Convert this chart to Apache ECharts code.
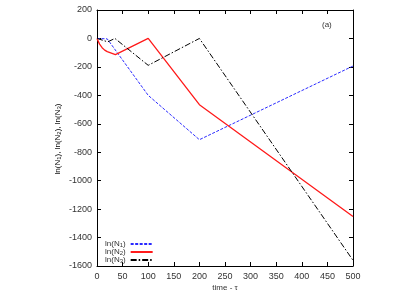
<!DOCTYPE html>
<html><head><meta charset="utf-8">
<script src="https://cdn.jsdelivr.net/npm/echarts@6/dist/echarts.min.js"></script>
<style>html,body{margin:0;padding:0;background:#fff}#c{width:420px;height:294px}</style>
</head><body><div id="c"></div>
<script>
const seriesNames = ['ln(N1)', 'ln(N2)', 'ln(N3)'];
const n1 = [[0,0],[20,-3],[100,-400],[200,-712],[500,-194]];
const n2 = [[0,0],[5,-40],[10,-65],[15,-82],[20,-93],[36,-114],[100,0],[200,-466],[500,-1252]];
const n3 = [[0,0],[21,-24],[35,0],[100,-189],[200,0],[500,-1560]];
const xTicks = [0,50,100,150,200,250,300,350,400,450,500];
const yTicks = [200,0,-200,-400,-600,-800,-1000,-1200,-1400,-1600];
const xTitle = 'time - τ';
const panelLabel = '(a)';

const font = 'Liberation Sans, Arial, sans-serif';
const txt = '#333';
const rich = {
  sub:{fontSize:6, lineHeight:6, padding:[4,0,0,0], verticalAlign:'bottom', fontFamily:font, color:txt},
  n:{fontSize:8, lineHeight:8, verticalAlign:'top', fontFamily:font, color:txt}
};
function subFmt(name){const m=name.match(/^ln\(N(\d)\)$/);return m?'{n|ln(N}{sub|'+m[1]+'}{n|)}':name;}

const chart = echarts.init(document.getElementById('c'));
function axisCommon(){ return {
  axisLine:{show:true, onZero:false, lineStyle:{color:'#000', width:1}},
  axisTick:{show:true, inside:true, length:4, lineStyle:{color:'#000'}},
  splitLine:{show:false}
};}
chart.setOption({
  animation:false,
  grid:{left:97, right:67, top:10, bottom:28},
  xAxis:[
    Object.assign({type:'value', min:0, max:500, interval:50, position:'bottom',
      axisLabel:{fontSize:9, color:txt, fontFamily:font, margin:6, formatter:v=>String(v)}}, axisCommon()),
    Object.assign({type:'value', min:0, max:500, interval:50, position:'top',
      axisLabel:{show:false}}, axisCommon())
  ],
  yAxis:[
    Object.assign({type:'value', min:-1600, max:200, interval:200, position:'left',
      axisLabel:{fontSize:9, color:txt, fontFamily:font, margin:5, formatter:v=>String(v)}}, axisCommon()),
    Object.assign({type:'value', min:-1600, max:200, interval:200, position:'right',
      axisLabel:{show:false}}, axisCommon())
  ],
  legend:{
    left:105, top:238, orient:'vertical', align:'right', itemGap:-2,
    itemWidth:22, itemHeight:7, padding:0,
    data:seriesNames,
    formatter:subFmt,
    itemStyle:{opacity:0},
    textStyle:{rich:rich, fontSize:8, color:txt, fontFamily:font}
  },
  series:[
    {name:seriesNames[0], type:'line', data:n1, symbol:'none', xAxisIndex:0, yAxisIndex:0,
      lineStyle:{color:'#2a2aff', width:1, type:[3,1.5]}, itemStyle:{color:'#2a2aff'}},
    {name:seriesNames[1], type:'line', data:n2, symbol:'none', xAxisIndex:0, yAxisIndex:0,
      lineStyle:{color:'#ff1a1a', width:1.3, type:'solid'}, itemStyle:{color:'#ff1a1a'}},
    {name:seriesNames[2], type:'line', data:n3, symbol:'none', xAxisIndex:0, yAxisIndex:0,
      lineStyle:{color:'#000', width:1, type:[6,2,1.5,2]}, itemStyle:{color:'#000'}}
  ],
  graphic:[
    {type:'text', x:322, y:21, style:{text:panelLabel, fontSize:8, fill:txt, fontFamily:font}},
    {type:'text', x:225, y:284, style:{text:xTitle, fontSize:8, fill:txt, fontFamily:font, align:'center'}},
    {type:'text', x:58, y:139, rotation:Math.PI/2,
      style:{text:'{n|ln(N}{sub|1}{n|), ln(N}{sub|2}{n|), ln(N}{sub|3}{n|)}', rich:rich, align:'center', verticalAlign:'middle'}}
  ]
});
</script></body></html>
